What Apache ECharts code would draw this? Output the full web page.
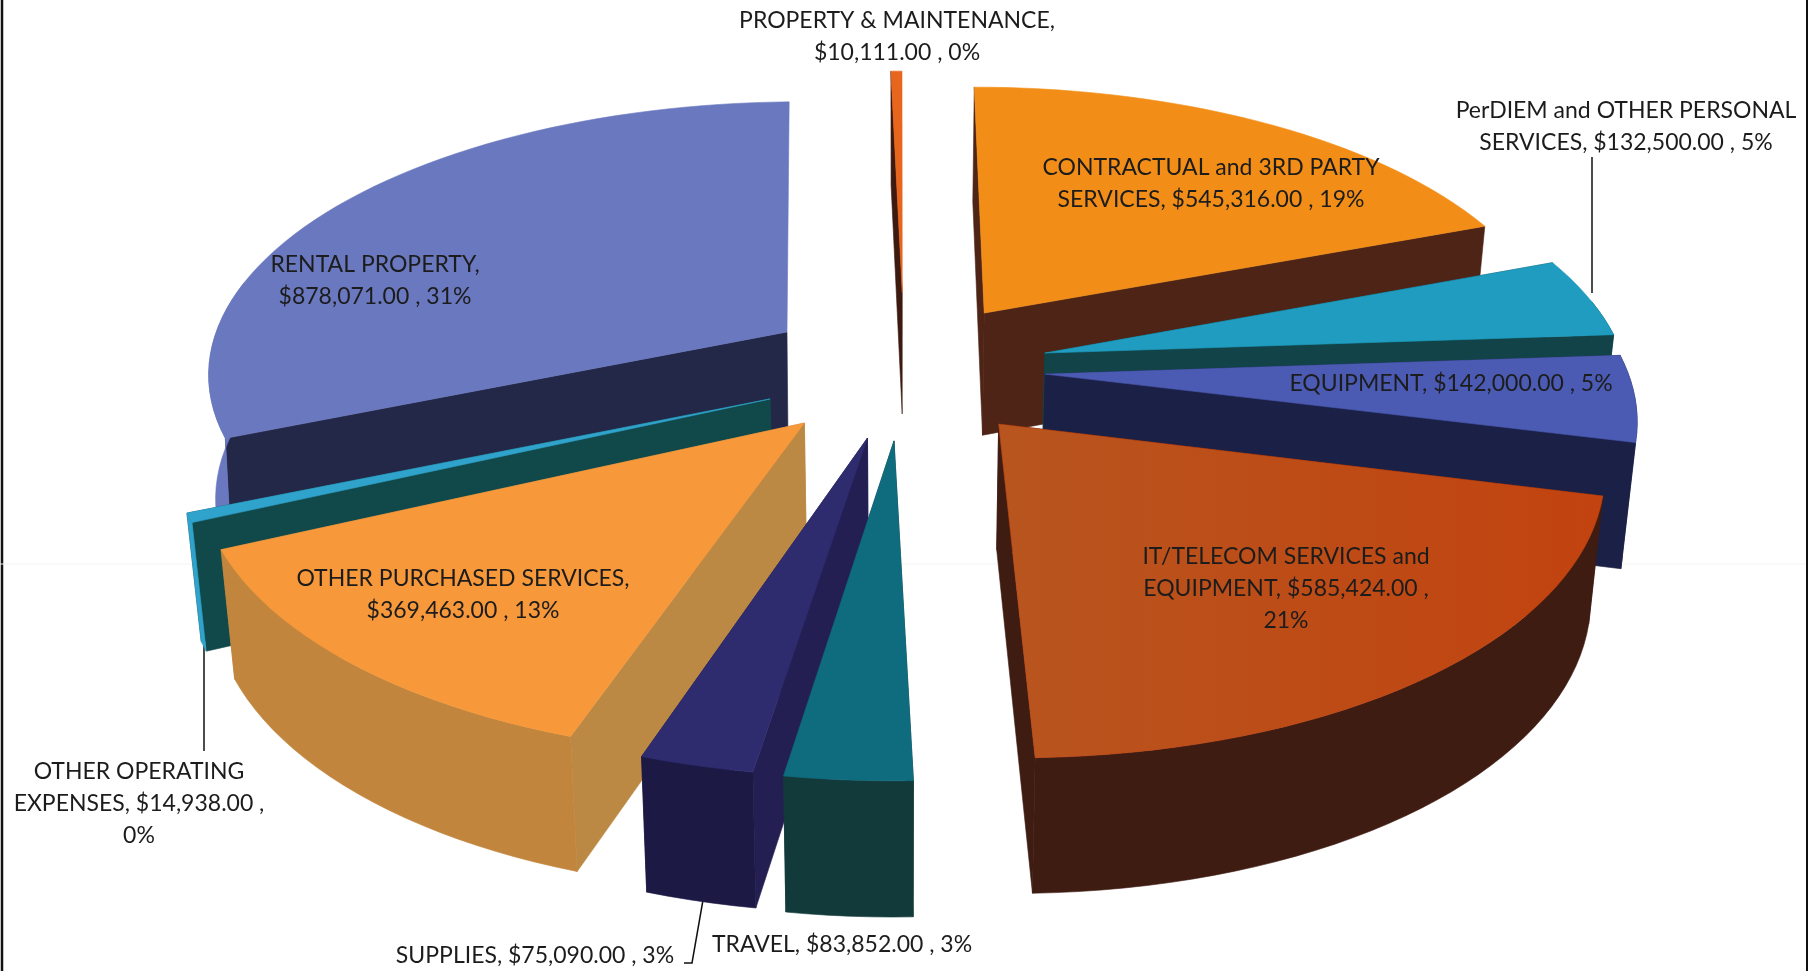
<!DOCTYPE html>
<html>
<head>
<meta charset="utf-8">
<style>html,body{margin:0;padding:0;background:#fff}#c{width:1820px;height:971px}</style>
<script src="https://cdn.jsdelivr.net/npm/echarts@6/dist/echarts.min.js"></script>
</head>
<body>
<div id="c"></div>
<script>
// ---- data (clockwise from 12 o'clock) ----
var categories = ['CONTRACTUAL and 3RD PARTY SERVICES','PerDIEM and OTHER PERSONAL SERVICES','EQUIPMENT','IT/TELECOM SERVICES and EQUIPMENT','TRAVEL','SUPPLIES','OTHER PURCHASED SERVICES','OTHER OPERATING EXPENSES','RENTAL PROPERTY','PROPERTY & MAINTENANCE'];
var values = [545316,132500,142000,585424,83852,75090,369463,14938,878071,10111];
var labelTexts = [
 'CONTRACTUAL and 3RD PARTY\nSERVICES, $545,316.00 , 19%',
 'PerDIEM and OTHER PERSONAL\nSERVICES, $132,500.00 , 5%',
 'EQUIPMENT, $142,000.00 , 5%',
 'IT/TELECOM SERVICES and\nEQUIPMENT, $585,424.00 ,\n21%',
 'TRAVEL, $83,852.00 , 3%',
 'SUPPLIES, $75,090.00 , 3%',
 'OTHER PURCHASED SERVICES,\n$369,463.00 , 13%',
 'OTHER OPERATING\nEXPENSES, $14,938.00 ,\n0%',
 'RENTAL PROPERTY,\n$878,071.00 , 31%',
 'PROPERTY & MAINTENANCE,\n$10,111.00 , 0%'
];
// ---- styling / layout (same order as data) ----
var itGradient = {type:'linear',x:0,y:0,x2:1,y2:0,colorStops:[{offset:0,color:'#b8551f'},{offset:1,color:'#c2430f'}]};
var topColors   = ['#f28e17','#1f9cc0','#4b5bb3',itGradient,'#0f6c7e','#2e2c6e','#f7983a','#2fa3cb','#6a78bf','#e8651d'];
var radialColors= ['#4e2416','#114349','#1b2047','#3f1c12','#123a3a','#231f52','#bc8945','#11494b','#232848','#3d1a10'];
var outerColors = ['#4e2416','#114349','#1b2047','#3f1c12','#123a3a','#1c1a45','#c2853d','#2fa3cb','#6a78bf','#3d1a10'];
var explodeU = [0.149,0.251,0.249,0.165,-0.010,-0.054,-0.160,-0.220,-0.198,0.004];
var explodeV = [0.339,0.186,0.108,-0.0705,-0.129,-0.119,-0.067,0.018,0.266,0.420];
var paintRank = [2,4,5,7,9,8,6,3,1,0];
var showEndWall = [1,1,1,1,1,1,1,1,0,0];
var wallShrink = [0.98,0.98,0.98,0.98,0.98,0.98,0.98,0.98,0.99,0.98];
var labelX = [1211,1626,1451,1286,842,535,463,139,375,897];
var labelY = [184,127,384,589,945,956,595,804,281,37];
var CX=900, CY=404, RX=592, RY=281, PERSP=0.14, HEIGHT=125, STEP=2, BACK_COS=0.2;
var FONT='23px Lato, "Open Sans", sans-serif', LINE_H=32, TEXT_COLOR='#1c1c1c';

var total = values.reduce(function(s,v){return s+v;},0);
var cumul = []; values.reduce(function(s,v,i){cumul[i]=s;return s+v;},0);

function project(u,v){
  var s=1/(1+PERSP*v);
  return [CX+u*RX*s, CY-v*RY*s, s];
}
function drop(p,k){
  return [CX+(p[0]-CX)*k, p[1]+HEIGHT*Math.sqrt(p[2])];
}
function poly(points,fill,z){
  var stroke = typeof fill==='string' ? fill : fill.colorStops[1].color;
  return {type:'polygon',z2:z,shape:{points:points},style:{fill:fill,stroke:stroke,lineWidth:0.6}};
}
function renderSlice(params,api){
  var i=api.value(1), val=api.value(0);
  var a0=cumul[i]/total*2*Math.PI, a1=(cumul[i]+val)/total*2*Math.PI;
  var eu=explodeU[i], ev=explodeV[i], rank=paintRank[i]*10, k=wallShrink[i];
  var apex=project(eu,ev), apexB=drop(apex,k);
  var n=Math.max(2,Math.ceil((a1-a0)*180/Math.PI/STEP)), arc=[], arcB=[], fa=[], faB=[];
  for(var j=0;j<=n;j++){
    var t=a0+(a1-a0)*j/n;
    var p=project(eu+Math.sin(t),ev+Math.cos(t));
    arc.push([p[0],p[1]]); arcB.push(drop(p,k));
    if(Math.cos(t)<BACK_COS){ fa.push([p[0],p[1]]); faB.push(drop(p,k)); }
  }
  var ch=[];
  if(showEndWall[i]) ch.push(poly([[apex[0],apex[1]],arc[n],arcB[n],apexB],radialColors[i],rank+1));
  ch.push(poly([[apex[0],apex[1]],arc[0],arcB[0],apexB],radialColors[i],rank+2));
  if(fa.length>1) ch.push(poly(fa.concat(faB.reverse()),outerColors[i],rank+3));
  ch.push(poly([[apex[0],apex[1]]].concat(arc),topColors[i],rank+4));
  var lines=labelTexts[i].split('\n');
  lines.forEach(function(l,m){
    ch.push({type:'text',z2:500,x:labelX[i],y:labelY[i]+(m-(lines.length-1)/2)*LINE_H,
      style:{text:l,font:FONT,fill:TEXT_COLOR,align:'center',verticalAlign:'middle'}});
  });
  return {type:'group',children:ch};
}
function seg(pts,w,c){return {type:'polyline',z:0,shape:{points:pts},style:{stroke:c||'#111',lineWidth:w||1.5,fill:'none'}};}
var chart=echarts.init(document.getElementById('c'));
chart.setOption({
  animation:false,
  backgroundColor:'#fff',
  graphic:[
    seg([[2,0],[2,971]],2.5),
    seg([[1807,0],[1807,971]],2),
    seg([[0,564],[1806,564]],1,'#f3f3f3'),
    seg([[1592,157],[1592,293]],1.5),
    seg([[204,640],[204,751]],1.5),
    seg([[703,900],[692,963],[684,963]],1.5)
  ],
  series:[{
    type:'custom',
    coordinateSystem:'none',
    renderItem:renderSlice,
    silent:true,
    data:values.map(function(v,i){return {name:categories[i],value:[v,i]};})
  }]
});
</script>
</body>
</html>
